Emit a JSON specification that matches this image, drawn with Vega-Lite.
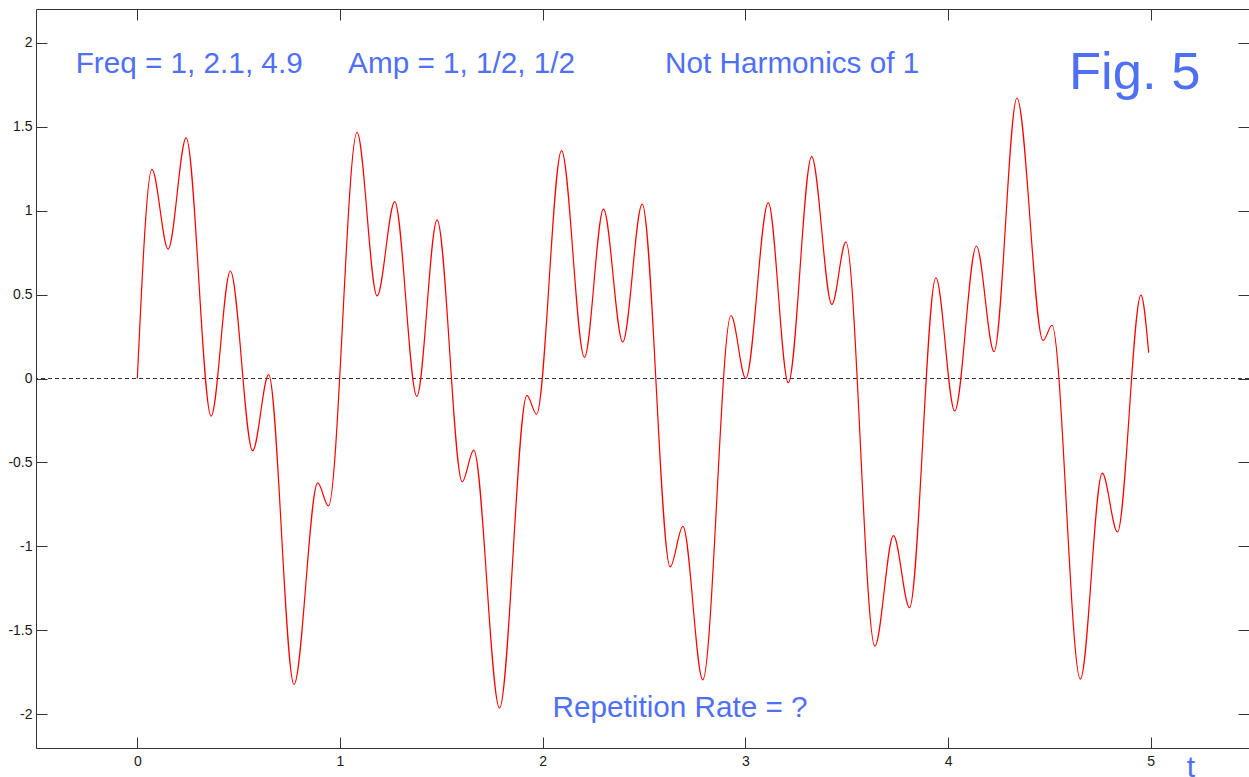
{
  "$schema": "https://vega.github.io/schema/vega-lite/v6.json",
  "width": 1213,
  "height": 739,
  "autosize": {"type": "none"},
  "padding": {"left": 36, "top": 9, "right": 0, "bottom": 29},
  "background": "white",
  "config": {
    "view": {"stroke": null},
    "axis": {
      "grid": false,
      "domainColor": "#333333",
      "tickColor": "#333333",
      "labelColor": "#1a1a1a",
      "labelFont": "Liberation Sans",
      "labelFontSize": 14,
      "tickSize": -11,
      "domainWidth": 1,
      "tickWidth": 1
    }
  },
  "datasets": {
    "wave": [
      {"t": 0, "y": 0},
      {"t": 0.072, "y": 1.245},
      {"t": 0.152, "y": 0.77},
      {"t": 0.241, "y": 1.433},
      {"t": 0.364, "y": -0.224},
      {"t": 0.459, "y": 0.64},
      {"t": 0.569, "y": -0.43},
      {"t": 0.648, "y": 0.023},
      {"t": 0.773, "y": -1.822},
      {"t": 0.89, "y": -0.622},
      {"t": 0.943, "y": -0.759},
      {"t": 1.084, "y": 1.465},
      {"t": 1.183, "y": 0.492},
      {"t": 1.27, "y": 1.053},
      {"t": 1.379, "y": -0.106},
      {"t": 1.479, "y": 0.945},
      {"t": 1.603, "y": -0.615},
      {"t": 1.66, "y": -0.426},
      {"t": 1.787, "y": -1.962},
      {"t": 1.922, "y": -0.101},
      {"t": 1.97, "y": -0.213},
      {"t": 2.093, "y": 1.357},
      {"t": 2.206, "y": 0.126},
      {"t": 2.3, "y": 1.008},
      {"t": 2.395, "y": 0.217},
      {"t": 2.491, "y": 1.038},
      {"t": 2.629, "y": -1.122},
      {"t": 2.692, "y": -0.88},
      {"t": 2.79, "y": -1.794},
      {"t": 2.929, "y": 0.375},
      {"t": 3.002, "y": 0.0},
      {"t": 3.113, "y": 1.047},
      {"t": 3.212, "y": -0.025},
      {"t": 3.327, "y": 1.321},
      {"t": 3.427, "y": 0.441},
      {"t": 3.496, "y": 0.814},
      {"t": 3.639, "y": -1.593},
      {"t": 3.731, "y": -0.935},
      {"t": 3.81, "y": -1.365},
      {"t": 3.94, "y": 0.6},
      {"t": 4.033, "y": -0.193},
      {"t": 4.14, "y": 0.789},
      {"t": 4.227, "y": 0.16},
      {"t": 4.34, "y": 1.67},
      {"t": 4.469, "y": 0.226},
      {"t": 4.513, "y": 0.317},
      {"t": 4.653, "y": -1.79},
      {"t": 4.761, "y": -0.563},
      {"t": 4.836, "y": -0.914},
      {"t": 4.952, "y": 0.497},
      {"t": 4.99, "y": 0.154}
    ],
    "notes": [
      {"t": -0.304, "y": 1.819, "label": "Freq = 1, 2.1, 4.9"},
      {"t": 1.04, "y": 1.819, "label": "Amp = 1, 1/2, 1/2"},
      {"t": 2.604, "y": 1.819, "label": "Not Harmonics of 1"},
      {"t": 2.049, "y": -2.016, "label": "Repetition Rate = ?"}
    ],
    "fig": [
      {"t": 4.597, "y": 1.724, "label": "Fig. 5"}
    ],
    "tlabel": [
      {"t": 5.199, "y": -2.37, "label": "t"}
    ],
    "zero": [
      {"y": 0}
    ]
  },
  "layer": [
    {
      "data": {"name": "zero"},
      "mark": {"type": "rule", "stroke": "#333333", "strokeDash": [4, 3], "strokeWidth": 1},
      "encoding": {
        "y": {
          "field": "y", "type": "quantitative",
          "scale": {"domain": [-2.2, 2.2], "nice": false, "zero": false},
          "axis": {
            "orient": "left", "title": null,
            "values": [-2, -1.5, -1, -0.5, 0, 0.5, 1, 1.5, 2],
            "labelExpr": "'' + datum.value",
            "labelPadding": 15
          }
        }
      }
    },
    {
      "data": {"name": "wave"},
      "mark": {"type": "line", "stroke": "#ff0000", "strokeWidth": 1.2, "interpolate": "monotone"},
      "encoding": {
        "x": {
          "field": "t", "type": "quantitative",
          "scale": {"domain": [-0.5, 5.485], "nice": false, "zero": false},
          "axis": {
            "orient": "bottom", "title": null,
            "values": [0, 1, 2, 3, 4, 5],
            "labelPadding": 17
          }
        },
        "y": {
          "field": "y", "type": "quantitative",
          "scale": {"domain": [-2.2, 2.2], "nice": false, "zero": false},
          "axis": {
            "orient": "right", "title": null,
            "values": [-2, -1.5, -1, -0.5, 0, 0.5, 1, 1.5, 2],
            "labels": false, "domain": false
          }
        }
      }
    },
    {
      "data": {"name": "notes"},
      "mark": {"type": "text", "align": "left", "baseline": "alphabetic", "font": "Liberation Sans", "fontSize": 29.7, "fill": "#4f6ff5"},
      "encoding": {
        "x": {
          "field": "t", "type": "quantitative",
          "scale": {"domain": [-0.5, 5.485], "nice": false, "zero": false},
          "axis": {
            "orient": "top", "title": null,
            "values": [0, 1, 2, 3, 4, 5],
            "labels": false
          }
        },
        "y": {
          "field": "y", "type": "quantitative",
          "scale": {"domain": [-2.2, 2.2], "nice": false, "zero": false},
          "axis": null
        },
        "text": {"field": "label"}
      }
    },
    {
      "data": {"name": "fig"},
      "mark": {"type": "text", "align": "left", "baseline": "alphabetic", "font": "Liberation Sans", "fontSize": 52.5, "fill": "#4f6ff5"},
      "encoding": {
        "x": {
          "field": "t", "type": "quantitative",
          "scale": {"domain": [-0.5, 5.485], "nice": false, "zero": false},
          "axis": null
        },
        "y": {
          "field": "y", "type": "quantitative",
          "scale": {"domain": [-2.2, 2.2], "nice": false, "zero": false},
          "axis": null
        },
        "text": {"field": "label"}
      }
    },
    {
      "data": {"name": "tlabel"},
      "mark": {"type": "text", "align": "center", "baseline": "alphabetic", "font": "Liberation Sans", "fontSize": 30, "fill": "#4f6ff5"},
      "encoding": {
        "x": {
          "field": "t", "type": "quantitative",
          "scale": {"domain": [-0.5, 5.485], "nice": false, "zero": false},
          "axis": null
        },
        "y": {
          "field": "y", "type": "quantitative",
          "scale": {"domain": [-2.2, 2.2], "nice": false, "zero": false},
          "axis": null
        },
        "text": {"field": "label"}
      }
    }
  ],
  "resolve": {"axis": {"x": "independent", "y": "independent"}}
}
